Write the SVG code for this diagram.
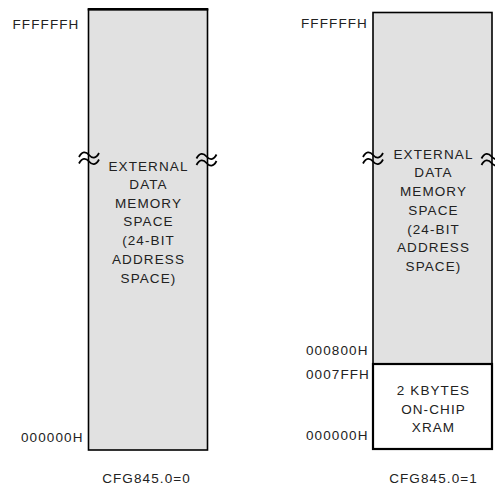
<svg xmlns="http://www.w3.org/2000/svg" width="495" height="487" viewBox="0 0 495 487">
<style>
text{font-family:"Liberation Sans",Arial,sans-serif;font-size:13.5px;letter-spacing:1.1px;fill:#222}
.c{text-anchor:middle}
.box{fill:#e1e1e1;stroke:#000;stroke-width:1.6}
.sq{fill:none;stroke:#000;stroke-width:1.8}
</style>
<defs>
<path id="tl" d="M-10,2 C-7,-4 -3,-3.5 0,0 S7,4 10,-2"/>
</defs>
<rect width="495" height="487" fill="#fff"/>
<g id="left-map">
<rect class="box" x="88.5" y="9.5" width="119" height="440.5"/>
<line x1="87.7" y1="9.3" x2="208.3" y2="9.3" stroke="#000" stroke-width="2.4"/>
<text class="c" x="148.5" y="170.7">EXTERNAL</text>
<text class="c" x="148.5" y="189.3">DATA</text>
<text class="c" x="148.5" y="207.8">MEMORY</text>
<text class="c" x="148.5" y="226.3">SPACE</text>
<text class="c" x="148.5" y="245">(24-BIT</text>
<text class="c" x="148.5" y="263.5">ADDRESS</text>
<text class="c" x="148.5" y="282.5">SPACE)</text>
<text x="12.5" y="29.3">FFFFFFH</text>
<text x="21" y="441.7">000000H</text>
<text class="c" x="146.5" y="483">CFG845.0=0</text>
</g>
<g id="left-breaks" class="sq">
<use href="#tl" x="89" y="155"/>
<use href="#tl" x="89" y="161.5"/>
<use href="#tl" x="206.5" y="156.5"/>
<use href="#tl" x="206.5" y="163"/>
</g>
<g id="right-map">
<rect class="box" x="373" y="12.5" width="119" height="351.5"/>
<text class="c" x="433.5" y="159.3">EXTERNAL</text>
<text class="c" x="433.5" y="177">DATA</text>
<text class="c" x="433.5" y="195.8">MEMORY</text>
<text class="c" x="433.5" y="215">SPACE</text>
<text class="c" x="433.5" y="233.5">(24-BIT</text>
<text class="c" x="433.5" y="252.3">ADDRESS</text>
<text class="c" x="433.5" y="270.8">SPACE)</text>
<text x="301" y="28.3">FFFFFFH</text>
<text x="306" y="355">000800H</text>
</g>
<g id="right-xram">
<rect x="373" y="364" width="119" height="85" fill="#fff" stroke="#000" stroke-width="2.2"/>
<text class="c" x="433.5" y="395">2 KBYTES</text>
<text class="c" x="433.5" y="413.5">ON-CHIP</text>
<text class="c" x="433.5" y="431.8">XRAM</text>
<text x="306" y="379.3">0007FFH</text>
<text x="306" y="440">000000H</text>
<text class="c" x="433.5" y="483">CFG845.0=1</text>
</g>
<g id="right-breaks" class="sq">
<use href="#tl" x="373" y="155"/>
<use href="#tl" x="373" y="161.5"/>
<use href="#tl" x="491.5" y="156.5"/>
<use href="#tl" x="491.5" y="163"/>
</g>
</svg>
